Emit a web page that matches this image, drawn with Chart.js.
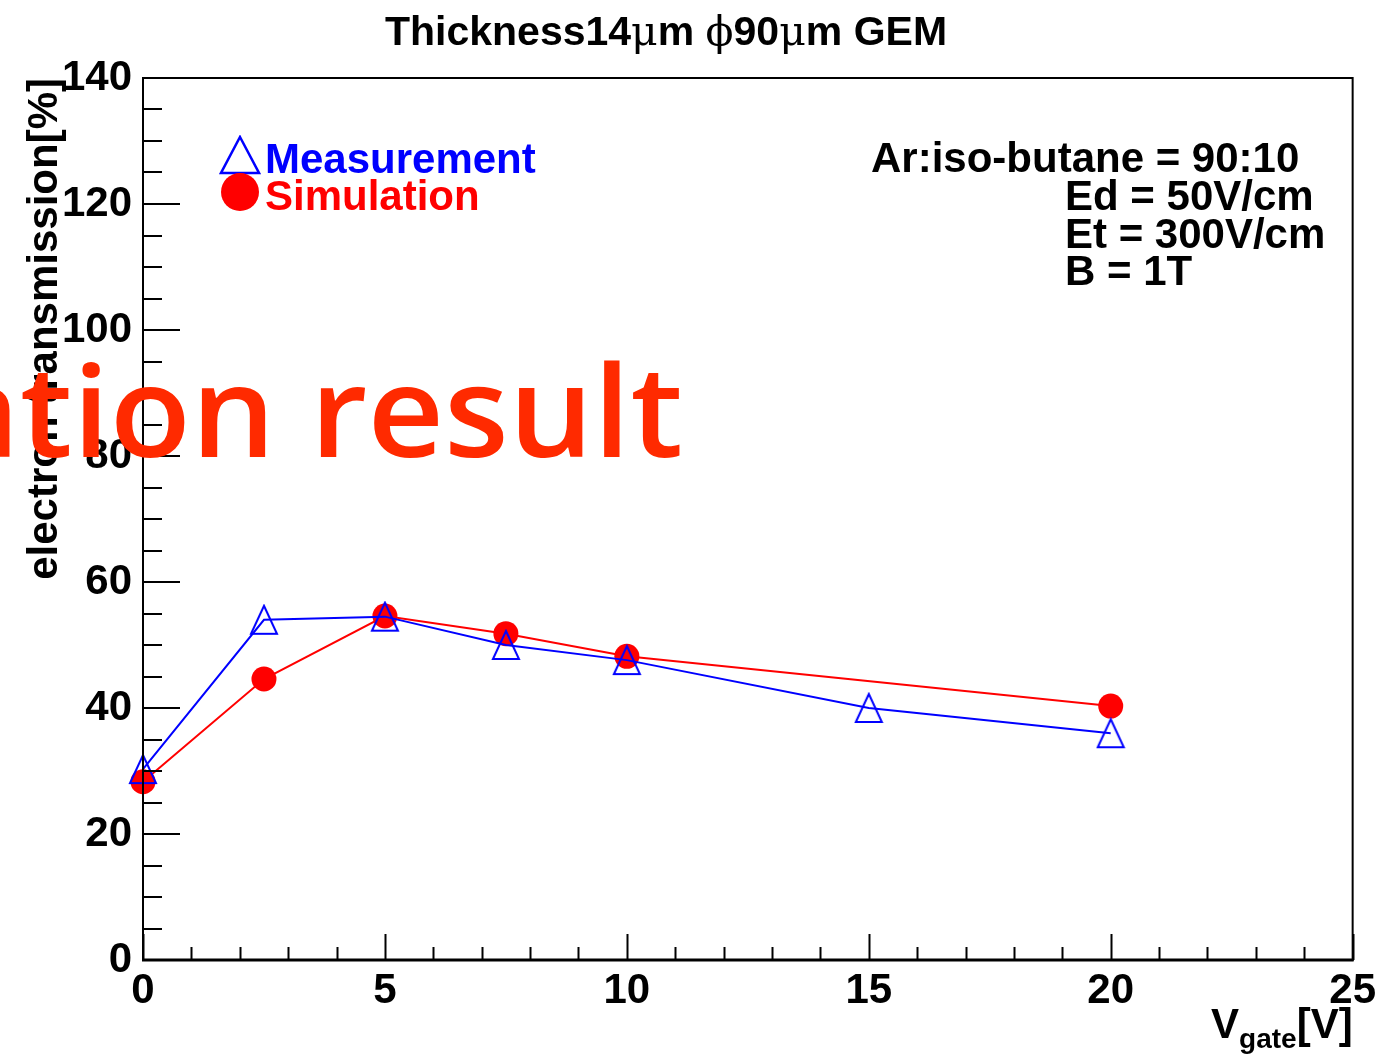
<!DOCTYPE html>
<html>
<head>
<meta charset="utf-8">
<script src="https://cdn.jsdelivr.net/npm/chart.js@4/dist/chart.umd.min.js"></script>
<style>
  html, body { margin: 0; padding: 0; background: #fff; }
  #wrap { width: 1378px; height: 1054px; }
</style>
</head>
<body>
<div id="wrap"><canvas id="chart" width="1378" height="1054"></canvas></div>
<script>
// gate voltage [V] and transmission [%]
const vMeas = [0, 2.5, 5, 7.5, 10, 15, 20];
const measured = [30.3, 54.0, 54.5, 50.0, 47.6, 40.0, 36.0];
const vSim = [0, 2.5, 5, 7.5, 10, 20];
const simulated = [28.3, 44.6, 54.6, 51.8, 48.2, 40.3];

const xTicks = [0, 5, 10, 15, 20, 25];
const yTicks = [0, 20, 40, 60, 80, 100, 120, 140];

const conditions = ["Ar:iso-butane = 90:10", "Ed = 50V/cm", "Et = 300V/cm", "B = 1T"];

const BLUE = "#0000ff";
const RED = "#ff0000";
const FONT = "'Liberation Sans', Arial, Helvetica, sans-serif";

// open triangle marker, slightly taller than wide
function makeTriangle(w, h, lw, color) {
  const c = document.createElement("canvas");
  c.width = w + 4;
  c.height = h + 4;
  const g = c.getContext("2d");
  g.strokeStyle = color;
  g.lineWidth = lw;
  g.lineJoin = "miter";
  g.beginPath();
  g.moveTo(c.width / 2, 2);
  g.lineTo(c.width - 2, c.height - 2);
  g.lineTo(2, c.height - 2);
  g.closePath();
  g.stroke();
  return c;
}

const triMarker = makeTriangle(26, 28, 2, BLUE);

function toPoints(xs, ys) {
  return xs.map((x, i) => ({ x: x, y: ys[i] }));
}

// draws pieces of text one after another in their own fonts
function drawRuns(ctx, runs, x, y, align) {
  let total = 0;
  runs.forEach((r) => {
    ctx.font = r.font;
    r.w = ctx.measureText(r.text).width;
    total += r.w;
  });
  let cx = align === "center" ? x - total / 2 : align === "right" ? x - total : x;
  ctx.textAlign = "left";
  runs.forEach((r) => {
    ctx.font = r.font;
    ctx.fillStyle = r.color || "#000";
    ctx.fillText(r.text, cx, y + (r.dy || 0));
    cx += r.w;
  });
}

const decorations = {
  id: "decorations",
  afterDraw(chart) {
    const ctx = chart.ctx;
    const xs = chart.scales.x;
    const ys = chart.scales.y;
    const area = chart.chartArea;

    ctx.save();
    ctx.strokeStyle = "#000";

    // tick marks inside the frame
    ctx.lineWidth = 2;
    ctx.beginPath();
    for (let v = 0; v <= 25; v += 1) {
      const px = Math.round(xs.getPixelForValue(v)) + 0.5;
      const len = v % 5 === 0 ? 26 : 13;
      ctx.moveTo(px, area.bottom);
      ctx.lineTo(px, area.bottom - len);
    }
    for (let v = 0; v <= 140; v += 5) {
      const py = Math.round(ys.getPixelForValue(v));
      const len = v % 20 === 0 ? 37 : 19;
      ctx.moveTo(area.left, py);
      ctx.lineTo(area.left + len, py);
    }
    ctx.stroke();

    // frame
    ctx.lineWidth = 2;
    ctx.strokeRect(area.left, area.top, area.right - area.left, area.bottom - area.top);
    ctx.lineWidth = 3;
    ctx.beginPath();
    ctx.moveTo(area.left - 1, area.bottom);
    ctx.lineTo(area.right + 1, area.bottom);
    ctx.stroke();

    // title
    ctx.textBaseline = "alphabetic";
    const bold = "bold 41px " + FONT;
    const greek = "41px 'DejaVu Serif', serif";
    drawRuns(ctx, [
      { text: "Thickness14", font: bold },
      { text: "\u03bc", font: greek },
      { text: "m ", font: bold },
      { text: "\u03d5", font: greek },
      { text: "90", font: bold },
      { text: "\u03bc", font: greek },
      { text: "m GEM", font: bold }
    ], 666, 45, "center");

    // y axis title
    ctx.save();
    ctx.translate(57, area.top);
    ctx.rotate(-Math.PI / 2);
    ctx.font = "bold 42px " + FONT;
    ctx.fillStyle = "#000";
    ctx.textAlign = "right";
    ctx.fillText("electron transmission[%]", 0, 0);
    ctx.restore();

    // x axis title
    drawRuns(ctx, [
      { text: "V", font: "bold 42px " + FONT },
      { text: "gate", font: "bold 28px " + FONT, dy: 10 },
      { text: "[V]", font: "bold 42px " + FONT }
    ], area.right, 1038, "right");

    // legend
    const tri = makeTriangle(38, 36, 2.5, BLUE);
    ctx.drawImage(tri, 240 - tri.width / 2, 155 - tri.height / 2);
    ctx.fillStyle = RED;
    ctx.beginPath();
    ctx.arc(240, 192, 19, 0, Math.PI * 2);
    ctx.fill();
    ctx.font = "bold 42px " + FONT;
    ctx.textAlign = "left";
    ctx.fillStyle = BLUE;
    ctx.fillText("Measurement", 265, 173);
    ctx.fillStyle = RED;
    ctx.fillText("Simulation", 265, 210);

    // run conditions
    ctx.fillStyle = "#000";
    ctx.fillText(conditions[0], 871, 172);
    conditions.slice(1).forEach((t, i) => {
      ctx.fillText(t, 1065, 210 + i * 37.5);
    });

    // slide caption lying over the plot
    ctx.fillStyle = "rgb(255, 42, 0)";
    ctx.font = "600 126px 'Open Sans', 'Noto Sans', sans-serif";
    const tail = ctx.measureText("tion result").width;
    const sx = 663 / tail;
    ctx.save();
    ctx.translate(683, 457);
    ctx.scale(sx, 1);
    ctx.textAlign = "right";
    ctx.fillText("Simulation result", 0, 0);
    ctx.restore();

    ctx.restore();
  }
};

new Chart(document.getElementById("chart"), {
  type: "line",
  data: {
    datasets: [
      {
        label: "Measurement",
        data: toPoints(vMeas, measured),
        borderColor: BLUE,
        borderWidth: 2,
        pointStyle: triMarker,
        pointRadius: 14,
        tension: 0,
        fill: false,
        clip: false
      },
      {
        label: "Simulation",
        data: toPoints(vSim, simulated),
        borderColor: RED,
        backgroundColor: RED,
        borderWidth: 2,
        pointStyle: "circle",
        pointRadius: 12.5,
        pointBorderWidth: 0,
        pointBackgroundColor: RED,
        tension: 0,
        fill: false,
        clip: false
      }
    ]
  },
  options: {
    responsive: false,
    animation: false,
    events: [],
    layout: { padding: { top: 78, right: 25, left: 0, bottom: 0 } },
    plugins: {
      legend: { display: false },
      title: { display: false },
      tooltip: { enabled: false }
    },
    scales: {
      x: {
        type: "linear",
        min: 0,
        max: 25,
        afterFit: (scale) => { scale.height = 94; },
        afterBuildTicks: (scale) => { scale.ticks = xTicks.map((v) => ({ value: v })); },
        grid: { display: false },
        border: { display: false },
        ticks: {
          color: "#000",
          padding: 2,
          maxRotation: 0,
          autoSkip: false,
          font: { family: FONT, size: 42, weight: "bold", lineHeight: 1 }
        }
      },
      y: {
        type: "linear",
        min: 0,
        max: 140,
        afterFit: (scale) => { scale.width = 143; },
        afterBuildTicks: (scale) => { scale.ticks = yTicks.map((v) => ({ value: v })); },
        grid: { display: false },
        border: { display: false },
        ticks: {
          color: "#000",
          padding: 3,
          font: { family: FONT, size: 42, weight: "bold", lineHeight: 1 }
        }
      }
    }
  },
  plugins: [decorations]
});
</script>
</body>
</html>
